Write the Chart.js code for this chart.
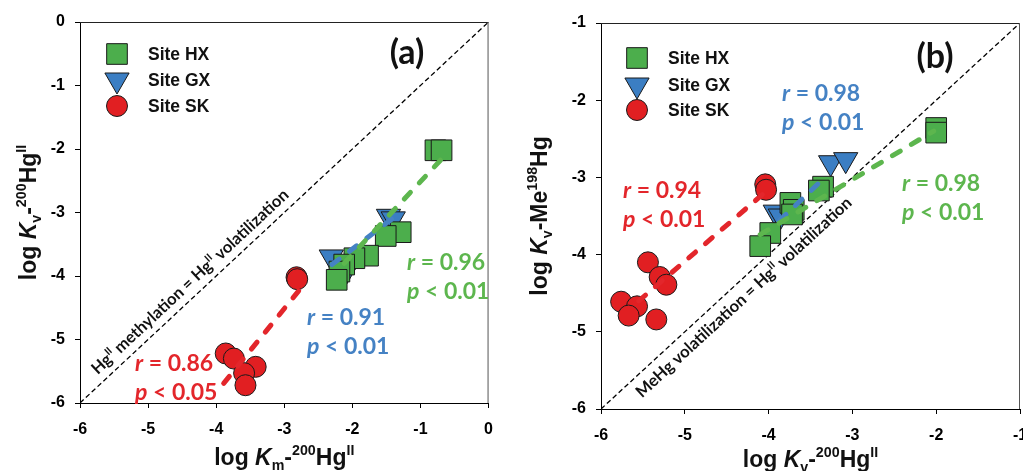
<!DOCTYPE html>
<html>
<head>
<meta charset="utf-8">
<script src="https://cdn.jsdelivr.net/npm/chart.js@4.4.1/dist/chart.umd.min.js"></script>
<style>
html, body { margin: 0; padding: 0; background: #fff; overflow: hidden; width: 1023px; height: 471px; }
#chartA { position: absolute; left: 0; top: 0; }
#chartB { position: absolute; left: 510px; top: 0; }
</style>
</head>
<body>
<canvas id="chartA" width="505" height="471"></canvas>
<canvas id="chartB" width="530" height="471"></canvas>
<script>
// panel (a): log Km-200HgII (x) vs log Kv-200HgII (y)
var hxA_x = [-0.78, -0.69, -1.29, -1.51, -1.77, -1.97, -2.12, -2.19, -2.23];
var hxA_y = [-2.02, -2.02, -3.31, -3.37, -3.68, -3.72, -3.82, -3.93, -4.06];
var gxA_x = [-1.47, -1.40, -2.31, -2.09];
var gxA_y = [-3.06, -3.10, -3.70, -3.92];
var skA_x = [-2.82, -2.81, -3.86, -3.74, -3.42, -3.59, -3.57];
var skA_y = [-4.02, -4.05, -5.22, -5.30, -5.43, -5.53, -5.72];
var fitA_hx_x = [-2.12, -0.70], fitA_hx_y = [-3.80, -2.17];
var fitA_gx_x = [-2.30, -1.38], fitA_gx_y = [-3.82, -3.07];
var fitA_sk_x = [-3.89, -2.77], fitA_sk_y = [-5.69, -4.21];
var ticksA_x = [-6, -5, -4, -3, -2, -1, 0];
var ticksA_y = [-6, -5, -4, -3, -2, -1, 0];
var rA = ['0.96', '0.91', '0.86'];
var pA = ['< 0.01', '< 0.01', '< 0.05'];

// panel (b): log Kv-200HgII (x) vs log Kv-Me198Hg (y)
var hxB_x = [-2.00, -2.00, -3.35, -3.40, -3.74, -3.70, -3.72, -3.98, -4.10];
var hxB_y = [-2.36, -2.42, -3.12, -3.17, -3.33, -3.42, -3.48, -3.72, -3.89];
var gxB_x = [-3.26, -3.08, -3.92, -3.86];
var gxB_y = [-2.81, -2.77, -3.45, -3.50];
var skB_x = [-4.04, -4.03, -5.44, -5.30, -5.22, -5.76, -5.57, -5.67, -5.34];
var skB_y = [-3.09, -3.16, -4.10, -4.29, -4.39, -4.61, -4.67, -4.79, -4.84];
var fitB_hx_x = [-4.10, -2.03], fitB_hx_y = [-3.74, -2.40];
var fitB_gx_x = [-3.87, -3.32], fitB_gx_y = [-3.56, -2.99];
var fitB_sk_x = [-5.55, -4.05], fitB_sk_y = [-4.60, -3.20];
var ticksB_x = [-6, -5, -4, -3, -2, -1];
var ticksB_y = [-6, -5, -4, -3, -2, -1];
var rB = ['0.98', '0.94', '0.98'];
var pB = ['< 0.01', '< 0.01', '< 0.01'];

var siteNames = ['Site HX', 'Site GX', 'Site SK'];

var GREEN = '#4cae4c', BLUE = '#3b7ec3', RED = '#e11f22';
var GREEN_T = '#5db64e', BLUE_T = '#4582c4', RED_T = '#e3262b';
var TICK_FONT = 'Liberation Sans';
var NOTE_FONT = 'Lato';

function pts(xs, ys) {
  return xs.map(function (x, i) { return { x: x, y: ys[i] }; });
}

function scatterSet(xs, ys, style, color, r, rot, order) {
  return {
    data: pts(xs, ys), showLine: false, order: order,
    pointStyle: style, pointRadius: r, pointHoverRadius: r, pointRotation: rot,
    pointBackgroundColor: color, pointBorderColor: '#1a1a1a', pointBorderWidth: 1
  };
}

function lineSet(xs, ys, color, width, dash, cap, order) {
  return {
    data: pts(xs, ys), showLine: true, order: order, fill: false,
    borderColor: color, borderWidth: width, borderDash: dash, borderCapStyle: cap,
    pointRadius: 0, pointHoverRadius: 0
  };
}

function runFont(r, size, fam) {
  var s = (r[1] === 'sup' || r[1] === 'sub') ? size * 0.62 : size;
  return (r[1] === 'i' ? 'italic ' : '') + 'bold ' + s + 'px "' + fam + '"';
}

function runsWidth(ctx, runs, size, fam) {
  var w = 0;
  runs.forEach(function (r) { ctx.font = runFont(r, size, fam); w += ctx.measureText(r[0]).width; });
  return w;
}

// x,y = baseline; align 'left' or 'center'
function drawRuns(ctx, runs, x, y, size, fam, align) {
  var cx = align === 'center' ? x - runsWidth(ctx, runs, size, fam) / 2 : x;
  ctx.textAlign = 'left';
  ctx.textBaseline = 'alphabetic';
  runs.forEach(function (r) {
    var dy = r[1] === 'sup' ? -size * 0.42 : (r[1] === 'sub' ? size * 0.2 : 0);
    ctx.font = runFont(r, size, fam);
    ctx.fillText(r[0], cx, y + dy);
    cx += ctx.measureText(r[0]).width;
  });
}

function drawMarker(ctx, kind, x, y, color) {
  ctx.fillStyle = color;
  ctx.strokeStyle = '#1a1a1a';
  ctx.lineWidth = 1;
  ctx.beginPath();
  if (kind === 'rect') {
    var h = 14.6 * Math.SQRT1_2;
    ctx.rect(x - h, y - h, 2 * h, 2 * h);
  } else if (kind === 'triangle') {
    var r = 14;
    ctx.moveTo(x, y + r);
    ctx.lineTo(x - r * 0.866, y - r / 2);
    ctx.lineTo(x + r * 0.866, y - r / 2);
    ctx.closePath();
  } else {
    ctx.arc(x, y, 10.5, 0, Math.PI * 2);
  }
  ctx.fill();
  ctx.stroke();
}

var deco = {
  id: 'deco',
  afterDatasetsDraw: function (chart, args, o) {
    var ctx = chart.ctx, a = chart.chartArea;
    var xs = chart.scales.x, ys = chart.scales.y;
    ctx.save();

    // top and right frame
    ctx.lineWidth = 1;
    ctx.strokeStyle = '#222';
    ctx.beginPath();
    ctx.moveTo(a.left, a.top + 0.5); ctx.lineTo(a.right, a.top + 0.5);
    ctx.stroke();
    ctx.strokeStyle = '#555';
    ctx.beginPath();
    ctx.moveTo(a.right - 0.5, a.top); ctx.lineTo(a.right - 0.5, a.bottom);
    ctx.stroke();

    // legend
    var kinds = ['rect', 'triangle', 'circle'], cols = [GREEN, BLUE, RED];
    for (var i = 0; i < 3; i++) {
      drawMarker(ctx, kinds[i], o.legX, o.legY[i], cols[i]);
      ctx.fillStyle = '#111';
      ctx.font = 'bold 17.5px "' + TICK_FONT + '"';
      ctx.textAlign = 'left';
      ctx.textBaseline = 'middle';
      ctx.fillText(siteNames[i], o.legTextX, o.legY[i] + 1);
    }

    // panel label
    ctx.fillStyle = '#111';
    ctx.font = 'bold 34px "' + NOTE_FONT + '"';
    ctx.textAlign = 'center';
    ctx.textBaseline = 'middle';
    ctx.fillText(o.panel, o.panelX, o.panelY);

    // r / p notes
    o.notes.forEach(function (n) {
      ctx.fillStyle = n.color;
      drawRuns(ctx, [['r', 'i'], [' = ' + n.r, '']], n.x, n.y + 8, 23, NOTE_FONT, 'left');
      drawRuns(ctx, [['p', 'i'], [' ' + n.p, '']], n.x, n.y + 37, 23, NOTE_FONT, 'left');
    });

    // 1:1 line caption
    var p0x = xs.getPixelForValue(xs.min), p0y = ys.getPixelForValue(ys.min);
    var p1x = xs.getPixelForValue(xs.max), p1y = ys.getPixelForValue(ys.max);
    var ang = Math.atan2(p1y - p0y, p1x - p0x);
    var len = Math.hypot(p1x - p0x, p1y - p0y);
    var cx = p0x + Math.cos(ang) * len * o.diagT + Math.sin(ang) * o.diagD;
    var cy = p0y + Math.sin(ang) * len * o.diagT - Math.cos(ang) * o.diagD;
    ctx.save();
    ctx.translate(cx, cy);
    ctx.rotate(ang);
    ctx.fillStyle = '#111';
    drawRuns(ctx, o.diagRuns, 0, 0, o.diagSize, NOTE_FONT, 'center');
    ctx.restore();

    // axis titles
    ctx.fillStyle = '#111';
    drawRuns(ctx, o.xTitle, (a.left + a.right) / 2, o.xTitleY, 23, TICK_FONT, 'center');
    ctx.save();
    ctx.translate(o.yTitleX, (a.top + a.bottom) / 2);
    ctx.rotate(-Math.PI / 2);
    drawRuns(ctx, o.yTitle, 0, 0, 23, TICK_FONT, 'center');
    ctx.restore();

    ctx.restore();
  }
};

function axis(min, max, tickVals, pad, fit) {
  return {
    type: 'linear', min: min, max: max,
    afterBuildTicks: function (s) { s.ticks = tickVals.map(function (v) { return { value: v }; }); },
    afterFit: fit,
    grid: { display: true, drawOnChartArea: false, drawTicks: true, tickLength: 5, color: '#000' },
    border: { display: true, color: '#000', width: 1 },
    ticks: {
      color: '#000', padding: pad, autoSkip: false, maxRotation: 0,
      font: { family: TICK_FONT, size: 16, weight: 'bold' },
      callback: function (v) { return String(v); }
    }
  };
}

function makeChart(id, sets, lo, hi, tx, ty, pad, yw, xh, deco_opts) {
  return new Chart(document.getElementById(id), {
    type: 'scatter',
    data: { datasets: sets },
    options: {
      responsive: false, animation: false, devicePixelRatio: 1,
      layout: { padding: pad },
      plugins: { legend: { display: false }, tooltip: { enabled: false }, deco: deco_opts },
      scales: {
        x: axis(lo, hi, tx, 12, function (s) { s.height = xh; }),
        y: axis(lo, hi, ty, 10, function (s) { s.width = yw; })
      }
    },
    plugins: [deco]
  });
}

var DASH = [9, 13];

makeChart('chartA', [
  lineSet(fitA_hx_x, fitA_hx_y, GREEN_T, 5, DASH, 'round', 0),
  lineSet(fitA_gx_x, fitA_gx_y, BLUE_T, 5, DASH, 'round', 1),
  lineSet(fitA_sk_x, fitA_sk_y, RED_T, 5, DASH, 'round', 2),
  scatterSet(hxA_x, hxA_y, 'rect', GREEN, 14.6, 0, 3),
  scatterSet(gxA_x, gxA_y, 'triangle', BLUE, 14, 180, 4),
  scatterSet(skA_x, skA_y, 'circle', RED, 10.5, 0, 5),
  lineSet([-6, 0], [-6, 0], '#000', 1.3, [5, 3], 'butt', 6)
], -6, 0, ticksA_x, ticksA_y, { left: 0, right: 13, top: 22, bottom: 0 }, 80, 68, {
  legX: 117, legY: [54, 80, 106], legTextX: 148,
  panel: '(a)', panelX: 407, panelY: 53,
  notes: [
    { r: rA[0], p: pA[0], x: 407, y: 262, color: GREEN_T },
    { r: rA[1], p: pA[1], x: 307, y: 317, color: BLUE_T },
    { r: rA[2], p: pA[2], x: 135, y: 363, color: RED_T }
  ],
  diagRuns: [['Hg', ''], ['II', 'sup'], [' methylation = Hg', ''], ['II', 'sup'], [' volatilization', '']],
  diagT: 0.292, diagD: 8.2, diagSize: 16.5,
  xTitle: [['log ', ''], ['K', 'i'], ['m', 'sub'], ['-', ''], ['200', 'sup'], ['Hg', ''], ['II', 'sup']],
  xTitleY: 465,
  yTitle: [['log ', ''], ['K', 'i'], ['v', 'sub'], ['-', ''], ['200', 'sup'], ['Hg', ''], ['II', 'sup']],
  yTitleX: 36
});

makeChart('chartB', [
  lineSet(fitB_hx_x, fitB_hx_y, GREEN_T, 5, DASH, 'round', 0),
  lineSet(fitB_gx_x, fitB_gx_y, BLUE_T, 5, DASH, 'round', 1),
  lineSet(fitB_sk_x, fitB_sk_y, RED_T, 5, DASH, 'round', 2),
  scatterSet(hxB_x, hxB_y, 'rect', GREEN, 14.6, 0, 3),
  scatterSet(gxB_x, gxB_y, 'triangle', BLUE, 14, 180, 4),
  scatterSet(skB_x, skB_y, 'circle', RED, 10.5, 0, 5),
  lineSet([-6, -1], [-6, -1], '#000', 1.3, [5, 3], 'butt', 6)
], -6, -1, ticksB_x, ticksB_y, { left: 0, right: 20, top: 23, bottom: 0 }, 91, 62, {
  legX: 127, legY: [58, 85, 110], legTextX: 158,
  panel: '(b)', panelX: 425, panelY: 57,
  notes: [
    { r: rB[0], p: pB[0], x: 272, y: 93, color: BLUE_T },
    { r: rB[1], p: pB[1], x: 113, y: 190, color: RED_T },
    { r: rB[2], p: pB[2], x: 392, y: 183, color: GREEN_T }
  ],
  diagRuns: [['MeHg volatilization = Hg', ''], ['II', 'sup'], [' volatilization', '']],
  diagT: 0.317, diagD: -20, diagSize: 16.5,
  xTitle: [['log ', ''], ['K', 'i'], ['v', 'sub'], ['-', ''], ['200', 'sup'], ['Hg', ''], ['II', 'sup']],
  xTitleY: 467,
  yTitle: [['log ', ''], ['K', 'i'], ['v', 'sub'], ['-Me', ''], ['198', 'sup'], ['Hg', '']],
  yTitleX: 37
});
</script>
</body>
</html>
